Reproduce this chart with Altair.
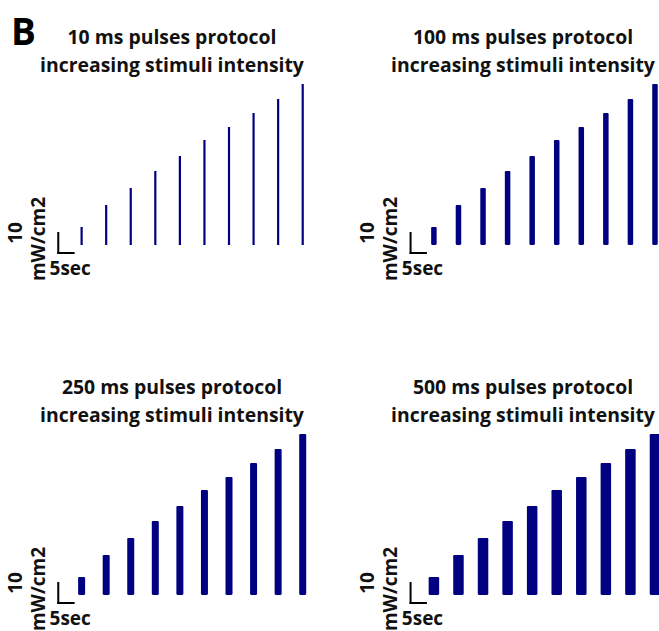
import altair as alt
import pandas as pd

# ---------------- data ----------------
panel_letter = "B"
panel_titles = [
    "10 ms pulses protocol",
    "100 ms pulses protocol",
    "250 ms pulses protocol",
    "500 ms pulses protocol",
]
title_line2 = "increasing stimuli intensity"
pulse_times_s = [0, 8, 16, 24, 32, 40, 48, 56, 64, 72]
intensity_mw_cm2 = [9, 20, 28.5, 37, 44.5, 52.5, 59, 66, 73, 80.5]
scale_time_s = 5
scale_intensity = 10
scale_time_label = "5sec"
scale_int_labels = ["10", "mW/cm2"]

# ---------------- layout / style ----------------
BAR_WIDTHS = [2.2, 5.5, 7, 10.5]
BAR_COLOR = "#000080"
TEXT_COLOR = "#111111"
FONT = "Open Sans"
FS = 19
TITLE_FS = 19.4
SB_X0 = -7.6      # scale bar corner (s)
SB_Y0 = -4        # scale bar corner (mW/cm2)
X_DOMAINS = {"left": [-24.95, 79.26], "right": [-32.21, 71.68]}
PANEL_W = {"left": 330, "right": 329}
ROW_H = [350, 281]
Y_DOMAINS = [[-52.5, 122.5], [-18, 122.5]]
PX_PER_S = 330 / (79.26 + 24.95)
TITLE_X = {"left": 172, "right": 193}
TITLE_Y = 44

pulses = pd.DataFrame({"t": pulse_times_s, "v": intensity_mw_cm2})
pulses["base"] = 0

scalebar = pd.DataFrame({
    "x": [SB_X0, SB_X0],
    "x2": [SB_X0, SB_X0 + scale_time_s],
    "y": [SB_Y0 + scale_intensity, SB_Y0],
    "y2": [SB_Y0, SB_Y0],
})
time_lbl = pd.DataFrame({
    "label": [scale_time_label],
    "x": [SB_X0 - 9 / PX_PER_S],
    "y": [SB_Y0 - 11],
})
int_lbl = pd.DataFrame({
    "label": scale_int_labels,
    "x": [SB_X0 - 44 / PX_PER_S, SB_X0 - 20 / PX_PER_S],
    "y": [6, 3],
})
one = pd.DataFrame({"k": [0]})


def panel(idx, col, row):
    xs = alt.Scale(domain=X_DOMAINS[col], nice=False, zero=False)
    ys = alt.Scale(domain=Y_DOMAINS[row], nice=False, zero=False)
    bars = alt.Chart(pulses).mark_bar(
        size=BAR_WIDTHS[idx], color=BAR_COLOR, clip=True,
        cornerRadius=1.2 if BAR_WIDTHS[idx] > 4 else 0,
    ).encode(
        x=alt.X("t:Q", scale=xs, axis=None),
        y=alt.Y("v:Q", scale=ys, axis=None),
        y2="base:Q",
    )
    sb = alt.Chart(scalebar).mark_rule(color="black", strokeWidth=2, strokeCap="square").encode(
        x=alt.X("x:Q", scale=xs, axis=None),
        x2="x2:Q",
        y=alt.Y("y:Q", scale=ys, axis=None),
        y2="y2:Q",
    )
    tl = alt.Chart(time_lbl).mark_text(
        align="left", baseline="alphabetic", font=FONT, fontWeight="bold",
        fontSize=FS, color=TEXT_COLOR,
    ).encode(
        x=alt.X("x:Q", scale=xs, axis=None),
        y=alt.Y("y:Q", scale=ys, axis=None),
        text="label:N",
    )
    il = alt.Chart(int_lbl).mark_text(
        align="center", baseline="middle", angle=270, font=FONT, fontWeight="bold",
        fontSize=FS, color=TEXT_COLOR,
    ).encode(
        x=alt.X("x:Q", scale=xs, axis=None),
        y=alt.Y("y:Q", scale=ys, axis=None),
        text="label:N",
    )
    title = alt.Chart(one).mark_text(
        text=[panel_titles[idx], title_line2], lineHeight=28,
        align="center", baseline="alphabetic", font=FONT, fontWeight="bold",
        fontSize=TITLE_FS, color=TEXT_COLOR,
    ).encode(x=alt.value(TITLE_X[col]), y=alt.value(TITLE_Y))
    layers = [bars, sb, tl, il, title]
    if idx == 0:
        letter = alt.Chart(one).mark_text(
            text=panel_letter, align="left", baseline="alphabetic",
            font=FONT, fontWeight="bold", fontSize=37, color="black",
        ).encode(x=alt.value(11), y=alt.value(45))
        layers.append(letter)
    return alt.layer(*layers).properties(width=PANEL_W[col], height=ROW_H[row])


top = alt.hconcat(panel(0, "left", 0), panel(1, "right", 0), spacing=0)
bottom = alt.hconcat(panel(2, "left", 1), panel(3, "right", 1), spacing=0)

chart = alt.vconcat(top, bottom, spacing=0).properties(
    padding={"left": 0, "top": 0, "right": 0, "bottom": 0},
    background="white",
).configure_view(stroke=None)

chart.save("out.html", embed_options={"renderer": "svg", "actions": False})
